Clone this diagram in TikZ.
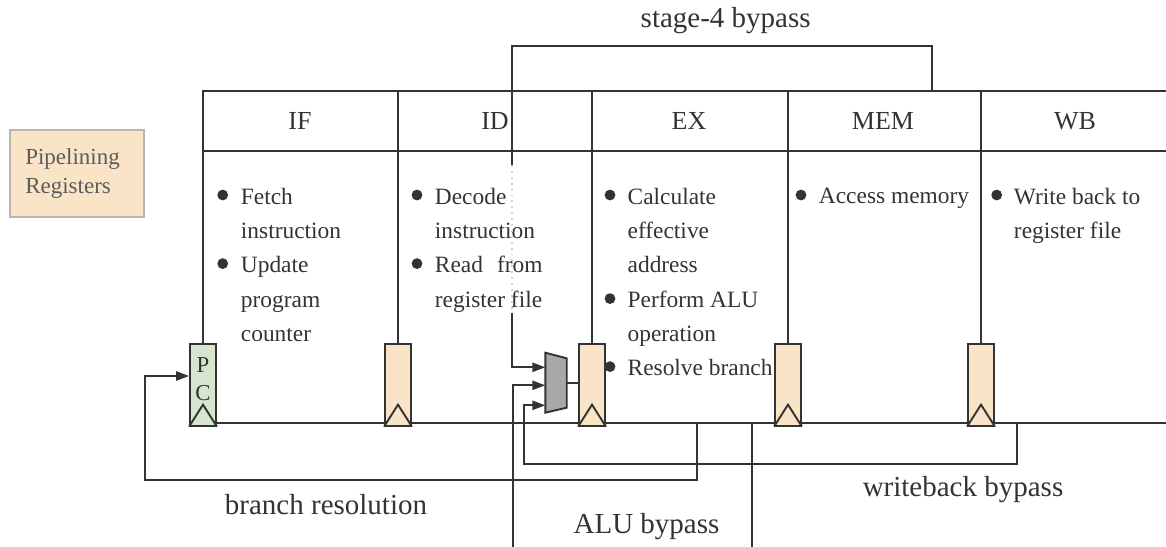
\documentclass[tikz,border=0pt]{standalone}
\usepackage{fontspec}
\setmainfont{Liberation Serif}
\usetikzlibrary{arrows.meta}

\definecolor{regfill}{HTML}{F9E4C8}
\definecolor{pcfill}{HTML}{D6E5CD}
\definecolor{ink}{HTML}{333333}
\definecolor{muxfill}{HTML}{A8A8A8}
\definecolor{legendline}{HTML}{BDB5AC}

\begin{document}
\begin{tikzpicture}[x=0.5pt, y=-0.5pt, line width=0.95pt, color=ink,
    reg/.style = {draw=ink, fill=regfill, minimum width=13pt, minimum height=40.7pt, inner sep=0pt},
    stagehead/.style = {font=\fontsize{13}{15}\selectfont},
    body/.style = {anchor=north west, align=left, inner sep=0pt, font=\fontsize{11.7}{17.15}\selectfont},
    lbl/.style = {font=\fontsize{14.5}{17}\selectfont},
    arr/.style = {-{Triangle[length=6.5pt,width=4.6pt]}}]
    \useasboundingbox (0,0) rectangle (1166,546);

    % legend
    \node[draw=legendline, fill=regfill, text width=52pt, inner sep=7.5pt, minimum height=43.35pt,
          align=left, text=ink!80, font=\fontsize{11.5}{14.5}\selectfont] (legend) at (77.3,173.3) {Pipelining\\Registers};

    % pipeline registers
    \node[reg, fill=pcfill] (pc) at (203,385) {};
    \node[reg] (rid) at (398,385) {};
    \node[reg] (rex) at (592,385) {};
    \node[reg] (rmem) at (788,385) {};
    \node[reg] (rwb) at (981,385) {};
    \node[inner sep=0pt, align=center, font=\fontsize{11.4}{14}\selectfont] (pctext) at (203,379) {P\\C};
    \foreach \r in {pc,rid,rex,rmem,rwb}
        \draw (\r.south west) -- ([yshift=11pt]\r.south) -- (\r.south east);

    % stage table
    \coordinate (top) at (0,91);
    \coordinate (hdr) at (0,151);
    \coordinate (tr) at (1172,91);
    \coordinate (hr) at (1172,151);
    \draw (pc.north) -- (pc.north |- top) -- (tr);
    \draw (pc.north |- hdr) -- (hr);
    \draw (rid.north) -- (rid.north |- top);
    \draw (rex.north) -- (rex.north |- top);
    \draw (rmem.north) -- (rmem.north |- top);
    \draw (rwb.north) -- (rwb.north |- top);

    \node[stagehead] (hif) at (300,121) {IF};
    \node[stagehead] (hid) at (495,121) {ID};
    \node[stagehead] (hex) at (689,121) {EX};
    \node[stagehead] (hmem) at (883,121) {MEM};
    \node[stagehead] (hwb) at (1075,121) {WB};

    \node[body] (bif) at (240,187) {Fetch\\instruction\\Update\\program\\counter};
    \node[body] (bid) at (434,187) {Decode\\instruction\\Read\hspace{7pt}from\\register file};
    \node[body] (bex) at (626.7,187) {Calculate\\effective\\address\\Perform ALU\\operation\\Resolve branch};
    \node[body] (bmem) at (818,187) {Access memory};
    \node[body] (bwb) at (1013,187) {Write back to\\register file};
    \foreach \p in {(222.7,195),(222.7,263.6),(417,195),(417,263.6),(610,195),(610,298.6),(610,366.6),(801,195),(996.7,195)}
        \fill \p circle (2.7pt);

    % bottom line through the registers
    \coordinate (br) at (1172,421.7);
    \draw ([yshift=2pt]pc.south east) -- ([yshift=2pt]rid.south west);
    \draw ([yshift=2pt]rid.south east) -- ([yshift=2pt]rex.south west);
    \draw ([yshift=2pt]rex.south east) -- ([yshift=2pt]rmem.south west);
    \draw ([yshift=2pt]rmem.south east) -- ([yshift=2pt]rwb.south west);
    \draw ([yshift=2pt]rwb.south east) -- ([yshift=2pt]rwb.south east -| br);

    % mux
    \draw[fill=muxfill] (545.3,352.7) -- (566.7,358.3) -- (566.7,407.7) -- (545.3,412.7) -- cycle;
    \coordinate (m1) at (545.3,367.3);
    \coordinate (m2) at (545.3,385.3);
    \coordinate (m3) at (545.3,405.3);
    \coordinate (mo) at (566.7,382.7);
    \draw (mo) -- (rex.west |- mo);

    % stage-4 bypass
    \coordinate (s4a) at (511.7,45.7);
    \coordinate (s4b) at (931.7,45.7);
    \coordinate (gap1) at (511.7,165);
    \coordinate (gap2) at (511.7,313);
    \draw (s4b |- top) -- (s4b) -- (s4a) -- (gap1);
    \draw[dotted, gray!35] (gap1) -- (gap2);
    \draw[arr] (gap2) |- (m1);

    % ALU bypass
    \coordinate (alu1) at (513.3,552);
    \coordinate (alutap) at (752,421.7);
    \draw[arr] (alu1) |- (m2);
    \draw (alutap) -- (alutap |- alu1);

    % writeback bypass
    \coordinate (wbtap) at (1017,421.7);
    \coordinate (wbc) at (524.3,464);
    \draw[arr] (wbtap) |- (wbc) |- (m3);

    % branch resolution
    \coordinate (brtap) at (697,421.7);
    \coordinate (brc) at (145,480);
    \draw[arr] (brtap) |- (brc) |- ([yshift=4.5pt]pc.west);

    % labels
    \node[lbl] (ls4) at (725.7,20.7) {stage-4 bypass};
    \node[lbl] (lbr) at (326,505) {branch resolution};
    \node[lbl] (lalu) at (646.5,527) {ALU bypass};
    \node[lbl] (lwb) at (963,490) {writeback bypass};
\end{tikzpicture}
\end{document}
